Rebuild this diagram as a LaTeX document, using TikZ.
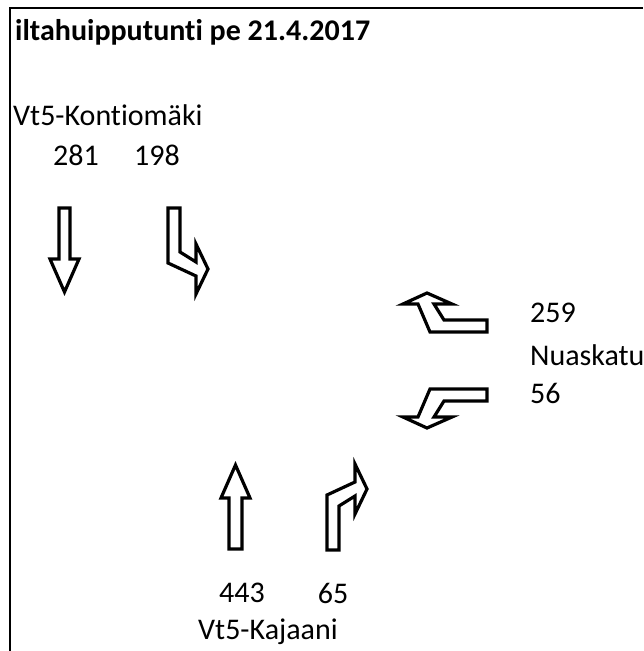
\documentclass[tikz,border=0pt]{standalone}
\usepackage{fontspec}
\setmainfont{Carlito}[Ligatures=NoCommon]
\usepackage{tikz}

\begin{document}
\begin{tikzpicture}[x=1pt, y=-1pt,
  turn/.style={draw=black, fill=white, line width=3.2pt, line join=miter},
  lbl/.style={font=\fontsize{30}{34}\selectfont, inner sep=0pt}]

\useasboundingbox (0,0) rectangle (643,651);

% Draw the frame
\draw[line width=2.6pt] (10,651) -- (10,8) -- (643,8);

% Label the figure
\node[lbl, anchor=west, font=\fontsize{30}{34}\selectfont\bfseries] (title) at (15,32) {iltahuipputunti pe 21.4.2017};

% Vt5-Kontiomaki approach
\node[lbl, anchor=west] (north) at (13,115) {Vt5-Kontiomäki};
\node[lbl] (nThrough) at (76,155) {281};
\node[lbl] (nRight) at (157,155) {198};
\draw[turn] (59,208) -- (70,208) -- (70,259) -- (79,259) -- (64.5,292)
  -- (50,259) -- (59,259) -- cycle;
\draw[turn] (168,208) -- (180,208) -- (180,252) -- (196,262) -- (196,244)
  -- (208,269) -- (196,294) -- (196,276) -- (168,263) -- cycle;

% Nuaskatu approach
\node[lbl, anchor=west] (eLeft) at (530,313) {259};
\node[lbl, anchor=west] (east) at (530,355) {Nuaskatu};
\node[lbl, anchor=west] (eRight) at (530,393) {56};
\draw[turn] (427,293) -- (452,304) -- (434,304) -- (444,320) -- (487,320)
  -- (487,332) -- (430,332) -- (418,304) -- (403,304) -- cycle;
\draw[turn] (427,428) -- (452,417) -- (434,417) -- (444,401) -- (487,401)
  -- (487,389) -- (430,389) -- (418,417) -- (403,417) -- cycle;

% Vt5-Kajaani approach
\draw[turn] (229,549) -- (242,549) -- (242,498) -- (250,498) -- (235.5,465)
  -- (221,498) -- (229,498) -- cycle;
\draw[turn] (327,550) -- (339,550) -- (339,506) -- (355,496) -- (355,514)
  -- (367,489) -- (355,464) -- (355,482) -- (327,495) -- cycle;
\node[lbl] (sThrough) at (242,593) {443};
\node[lbl] (sRight) at (333,593) {65};
\node[lbl, anchor=west] (south) at (198,632) {Vt5-Kajaani};

\end{tikzpicture}
\end{document}
